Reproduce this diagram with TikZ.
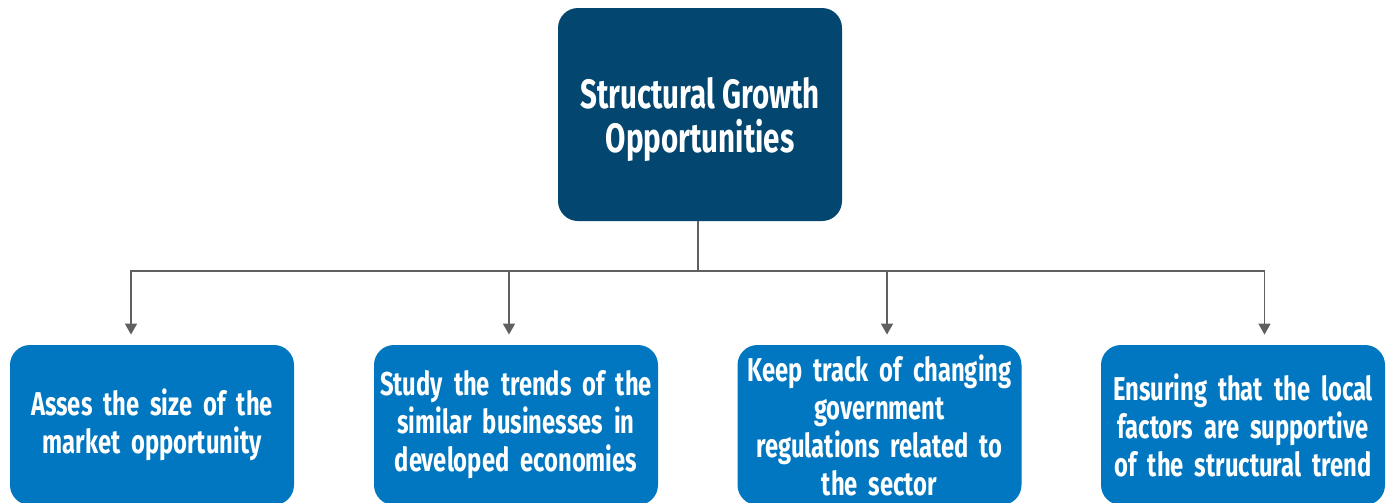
\documentclass[tikz,border=0pt]{standalone}
\usepackage{fontspec}
\setmainfont{Fira Sans}[FakeStretch=0.72]
\usetikzlibrary{arrows.meta,positioning}

\definecolor{topblue}{HTML}{03466F}
\definecolor{boxblue}{HTML}{0077C0}
\definecolor{linkgray}{HTML}{606060}

\tikzset{
  headbox/.style={fill=topblue,text=white,rounded corners=10pt,minimum width=142pt,
    minimum height=106.5pt,align=center,font=\bfseries\fontsize{20.5}{22}\selectfont},
  itembox/.style={fill=boxblue,text=white,rounded corners=10pt,minimum width=142pt,
    minimum height=80pt,text width=138pt,align=center,inner sep=0pt,
    font=\bfseries\fontsize{16.5}{19}\selectfont},
  link/.style={linkgray,line width=0.75pt},
  linkarrow/.style={link,-{Triangle[width=6pt,length=5.5pt]}}
}

\begin{document}
\begin{tikzpicture}[x=0.5pt,y=-0.5pt]
\useasboundingbox (0,0) rectangle (1386,503);

\node[headbox] (growth) at (700,114.5) {\rule{0pt}{20.5pt}Structural Growth\\Opportunities};

\node[itembox] (market) at (152,425) {Asses the size of the\\market opportunity};
\node[itembox] (trends) at (516,425) {Study the trends of the\\similar businesses in\\developed economies};
\node[itembox] (rules) at (879.5,425) {Keep track of changing\\government\\regulations related to\\the sector};
\node[itembox] (local) at (1243,425) {Ensuring that the local\\factors are supportive\\of the structural trend};

\coordinate (hub) at (698,271);
\draw[link] (growth.south -| hub) -- (hub);
\draw[linkarrow] (hub) -| ([xshift=-10.5pt,yshift=5pt]market.north);
\draw[linkarrow] (hub) -| ([xshift=-3.5pt,yshift=5pt]trends.north);
\draw[linkarrow] (hub) -| ([xshift=3.75pt,yshift=5pt]rules.north);
\draw[linkarrow] (hub) -| ([xshift=10.75pt,yshift=5pt]local.north);
\end{tikzpicture}
\end{document}
